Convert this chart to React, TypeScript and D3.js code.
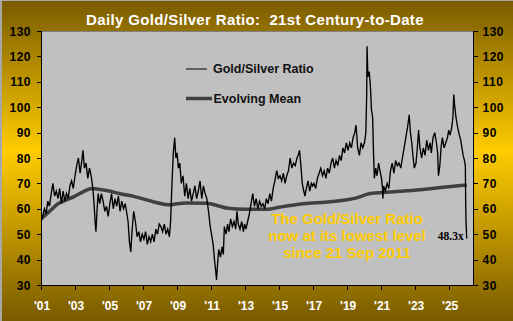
import React from "react";
import * as d3 from "d3";

const titleText = "Daily Gold/Silver Ratio:  21st Century-to-Date";
const yTicks = [30, 40, 50, 60, 70, 80, 90, 100, 110, 120, 130];
const xTicks = [2001, 2003, 2005, 2007, 2009, 2011, 2013, 2015, 2017, 2019, 2021, 2023, 2025];
const xTickLabels = ["'01", "'03", "'05", "'07", "'09", "'11", "'13", "'15", "'17", "'19", "'21", "'23", "'25"];
const legendLabels = ["Gold/Silver Ratio", "Evolving Mean"];
const noteLines = ["The Gold/Silver Ratio", "now at its lowest level", "since 21 Sep 2011"];
const lastLabel = "48.3x";

// [decimal year, ratio]
const ratioPoints: [number, number][] = [
  [2001.0, 55], [2001.1, 57], [2001.2, 60], [2001.3, 58], [2001.4, 63], [2001.5, 61], [2001.6, 66], [2001.7, 70], [2001.8, 65], [2001.9, 67],
  [2002.0, 64], [2002.1, 68], [2002.2, 62], [2002.3, 67], [2002.4, 63], [2002.5, 66], [2002.6, 64], [2002.7, 69], [2002.8, 71], [2002.9, 68],
  [2003.0, 73], [2003.1, 77], [2003.2, 80], [2003.3, 74], [2003.4, 79], [2003.47, 83], [2003.55, 76], [2003.65, 78], [2003.75, 72], [2003.85, 76], [2003.95, 73],
  [2004.05, 68], [2004.12, 62], [2004.18, 55], [2004.23, 51], [2004.3, 60], [2004.36, 66], [2004.45, 62], [2004.55, 66], [2004.65, 63], [2004.75, 59], [2004.85, 61], [2004.95, 57],
  [2005.05, 62], [2005.15, 66], [2005.25, 60], [2005.35, 64], [2005.45, 61], [2005.55, 65], [2005.65, 59], [2005.75, 63], [2005.85, 60], [2005.95, 62],
  [2006.05, 58], [2006.12, 55], [2006.2, 47], [2006.28, 43], [2006.35, 51], [2006.45, 59], [2006.55, 55], [2006.65, 49], [2006.75, 51], [2006.85, 47], [2006.95, 50],
  [2007.05, 48], [2007.15, 51], [2007.25, 46], [2007.35, 49], [2007.45, 47], [2007.55, 50], [2007.65, 47], [2007.75, 52], [2007.85, 50], [2007.95, 54],
  [2008.05, 53], [2008.15, 51], [2008.25, 54], [2008.35, 50], [2008.45, 52], [2008.55, 49], [2008.62, 55], [2008.7, 70], [2008.78, 82], [2008.86, 88], [2008.93, 80],
  [2009.0, 82], [2009.08, 76], [2009.16, 78], [2009.25, 70], [2009.35, 73], [2009.45, 65], [2009.55, 70], [2009.65, 64], [2009.75, 68], [2009.85, 63], [2009.95, 66],
  [2010.05, 69], [2010.15, 64], [2010.25, 67], [2010.35, 71], [2010.45, 64], [2010.55, 69], [2010.65, 66], [2010.75, 64], [2010.85, 59], [2010.95, 53],
  [2011.05, 49], [2011.12, 46], [2011.2, 40], [2011.28, 35], [2011.32, 32], [2011.38, 38], [2011.45, 44], [2011.55, 41], [2011.65, 45], [2011.72, 42], [2011.78, 53], [2011.88, 50], [2011.97, 54],
  [2012.05, 51], [2012.15, 56], [2012.25, 53], [2012.35, 55], [2012.45, 52], [2012.52, 59], [2012.6, 54], [2012.7, 52], [2012.8, 55], [2012.9, 51], [2012.97, 54],
  [2013.05, 52], [2013.15, 55], [2013.25, 58], [2013.35, 62], [2013.45, 66], [2013.55, 61], [2013.65, 64], [2013.75, 60], [2013.85, 63], [2013.95, 61],
  [2014.05, 62], [2014.15, 60], [2014.25, 64], [2014.35, 62], [2014.45, 66], [2014.55, 63], [2014.65, 68], [2014.75, 71], [2014.86, 75], [2014.95, 72],
  [2015.05, 73], [2015.15, 71], [2015.25, 74], [2015.35, 70], [2015.45, 73], [2015.55, 75], [2015.65, 80], [2015.75, 76], [2015.85, 78], [2015.95, 77],
  [2016.05, 80], [2016.12, 81], [2016.2, 83], [2016.28, 77], [2016.36, 70], [2016.45, 67], [2016.52, 65], [2016.6, 68], [2016.7, 71], [2016.8, 67], [2016.9, 70], [2016.97, 69],
  [2017.05, 70], [2017.15, 68], [2017.25, 72], [2017.35, 74], [2017.45, 76], [2017.55, 73], [2017.65, 75], [2017.75, 72], [2017.85, 76], [2017.95, 74],
  [2018.05, 78], [2018.15, 80], [2018.25, 76], [2018.35, 79], [2018.45, 77], [2018.55, 81], [2018.65, 79], [2018.75, 84], [2018.85, 82], [2018.95, 86],
  [2019.05, 83], [2019.15, 86], [2019.25, 84], [2019.35, 88], [2019.45, 90], [2019.52, 93], [2019.62, 84], [2019.72, 81], [2019.82, 86], [2019.92, 84],
  [2020.02, 86], [2020.1, 90], [2020.15, 105], [2020.17, 124], [2020.22, 112], [2020.3, 114], [2020.37, 108], [2020.43, 99], [2020.5, 96], [2020.55, 82], [2020.6, 72], [2020.68, 76], [2020.76, 73], [2020.85, 78], [2020.93, 75],
  [2021.02, 72], [2021.08, 68], [2021.1, 64], [2021.15, 69], [2021.25, 67], [2021.35, 70], [2021.45, 68], [2021.55, 75], [2021.65, 78], [2021.75, 74], [2021.85, 79], [2021.95, 77],
  [2022.05, 78], [2022.15, 76], [2022.25, 80], [2022.35, 84], [2022.45, 88], [2022.55, 92], [2022.65, 97], [2022.72, 90], [2022.8, 86], [2022.88, 80], [2022.95, 76],
  [2023.05, 78], [2023.15, 86], [2023.2, 91], [2023.28, 84], [2023.38, 80], [2023.48, 84], [2023.58, 81], [2023.68, 87], [2023.78, 83], [2023.88, 86], [2023.95, 82],
  [2024.05, 88], [2024.15, 90], [2024.25, 86], [2024.32, 82], [2024.37, 73], [2024.45, 77], [2024.52, 84], [2024.6, 88], [2024.7, 84], [2024.8, 86], [2024.9, 88], [2024.97, 91],
  [2025.05, 89], [2025.15, 92], [2025.22, 96], [2025.27, 105], [2025.33, 100], [2025.4, 96], [2025.5, 92], [2025.6, 89], [2025.68, 87], [2025.75, 84], [2025.82, 81], [2025.9, 79], [2025.95, 77], [2025.97, 62], [2025.99, 55], [2026.01, 52], [2026.03, 48.3],
];

const meanPoints: [number, number][] = [
  [2001.0, 56], [2001.5, 59], [2002.0, 62], [2002.5, 63.5], [2003.0, 65], [2003.5, 66.8], [2004.0, 68], [2004.5, 67.6],
  [2005.0, 67], [2005.6, 66], [2006.5, 64.8], [2007.6, 62.8], [2008.5, 61.6], [2009.0, 62], [2009.5, 62.3], [2010.75, 62.2],
  [2011.5, 61], [2012.0, 60.2], [2013.0, 59.8], [2014.3, 59.8], [2015.0, 60.6], [2016.4, 62], [2018.0, 62.8], [2019.5, 64.2],
  [2020.35, 66], [2021.5, 66.6], [2023.3, 67.5], [2024.5, 68.4], [2026.03, 69.4],
];

const W = 513;
const H = 321;
const plot = { left: 41, right: 473, top: 31, bottom: 285 };
const font = "'Liberation Sans', Arial, sans-serif";

export default function App() {
  const x = d3.scaleLinear().domain([2001, 2026.4]).range([plot.left, plot.right]);
  const y = d3.scaleLinear().domain([30, 130]).range([plot.bottom, plot.top]);
  const line = d3.line<[number, number]>().x((d) => x(d[0])).y((d) => y(d[1]));
  const meanLine = d3
    .line<[number, number]>()
    .x((d) => x(d[0]))
    .y((d) => y(d[1]))
    .curve(d3.curveMonotoneX);
  const last = ratioPoints[ratioPoints.length - 1];

  return (
    <div style={{ position: "absolute", left: 0, top: 0 }}>
      <svg width={W} height={H} style={{ display: "block" }}>
        <defs>
          <linearGradient id="bg" x1="0" y1="0" x2="0" y2="1">
            <stop offset="0" stopColor="#785a00" />
            <stop offset="0.47" stopColor="#ffcc00" />
            <stop offset="1" stopColor="#785a00" />
          </linearGradient>
          <clipPath id="clip">
            <rect x={plot.left} y={plot.top} width={plot.right - plot.left} height={plot.bottom - plot.top} />
          </clipPath>
        </defs>
        <rect x={0} y={0} width={W} height={H} fill="url(#bg)" />
        <rect x={0} y={0} width={2} height={H} fill="#a8a8a8" />
        <rect x={0} y={0} width={W} height={1} fill="#a8a8a8" />

        <text x={255} y={25} textAnchor="middle" fill="#ffffff" fontFamily={font} fontWeight="bold" fontSize={15} letterSpacing={0.35} style={{ whiteSpace: "pre" }}>
          {titleText}
        </text>

        <rect x={plot.left} y={plot.top} width={plot.right - plot.left} height={plot.bottom - plot.top} fill="#c0c0c0" />
        <line x1={plot.left} x2={plot.right} y1={plot.top + 0.5} y2={plot.top + 0.5} stroke="#808080" />

        {/* legend */}
        <line x1={186} x2={207} y1={69} y2={69} stroke="#000" strokeWidth={1} />
        <text x={213} y={73} fontFamily={font} fontWeight="bold" fontSize={12.5} fill="#111">
          {legendLabels[0]}
        </text>
        <line x1={186} x2={212} y1={98.5} y2={98.5} stroke="#404040" strokeWidth={3.5} />
        <text x={213.5} y={102.5} fontFamily={font} fontWeight="bold" fontSize={12.5} fill="#111">
          {legendLabels[1]}
        </text>

        <g clipPath="url(#clip)">
          <path d={meanLine(meanPoints) || ""} fill="none" stroke="#404040" strokeWidth={3.5} />
          <path d={line(ratioPoints) || ""} fill="none" stroke="#000" strokeWidth={1.35} strokeLinejoin="miter" />
        </g>

        {/* annotation */}
        {noteLines.map((t, i) => (
          <text key={t} x={347} y={223.5 + i * 17.2} textAnchor="middle" fontFamily={font} fontWeight="bold" fontSize={15} fill="#ffcc00">
            {t}
          </text>
        ))}
        <text x={x(last[0]) - 3} y={y(last[1]) + 1} textAnchor="end" fontFamily="'Liberation Serif', 'Times New Roman', serif" fontWeight="bold" fontSize={11.5} fill="#000">
          {lastLabel}
        </text>

        {/* axes */}
        <line x1={plot.left + 0.5} x2={plot.left + 0.5} y1={plot.top} y2={plot.bottom} stroke="#000" />
        <line x1={plot.right + 0.5} x2={plot.right + 0.5} y1={plot.top} y2={plot.bottom + 0.5} stroke="#000" />
        <line x1={plot.left} x2={plot.right + 1} y1={plot.bottom + 0.5} y2={plot.bottom + 0.5} stroke="#000" />

        {yTicks.map((v) => (
          <g key={v}>
            <line x1={plot.left - 4} x2={plot.left} y1={Math.round(y(v)) + 0.5} y2={Math.round(y(v)) + 0.5} stroke="#000" />
            <line x1={plot.right} x2={plot.right + 5} y1={Math.round(y(v)) + 0.5} y2={Math.round(y(v)) + 0.5} stroke="#000" />
            <text x={31} y={y(v) + 4.5} textAnchor="end" fontFamily={font} fontWeight="bold" fontSize={12} letterSpacing={0.5} fill="#000">
              {v}
            </text>
            <text x={482.5} y={y(v) + 4.5} textAnchor="start" fontFamily={font} fontWeight="bold" fontSize={12} letterSpacing={0.5} fill="#000">
              {v}
            </text>
          </g>
        ))}

        {xTicks.map((t, i) => (
          <g key={t}>
            <line x1={Math.round(x(t)) + 0.5} x2={Math.round(x(t)) + 0.5} y1={plot.bottom} y2={plot.bottom + 5} stroke="#000" />
            <text x={x(t) + 1} y={309.5} textAnchor="middle" fontFamily={font} fontWeight="bold" fontSize={12} fill="#ffffff">
              {xTickLabels[i]}
            </text>
          </g>
        ))}
      </svg>
    </div>
  );
}
